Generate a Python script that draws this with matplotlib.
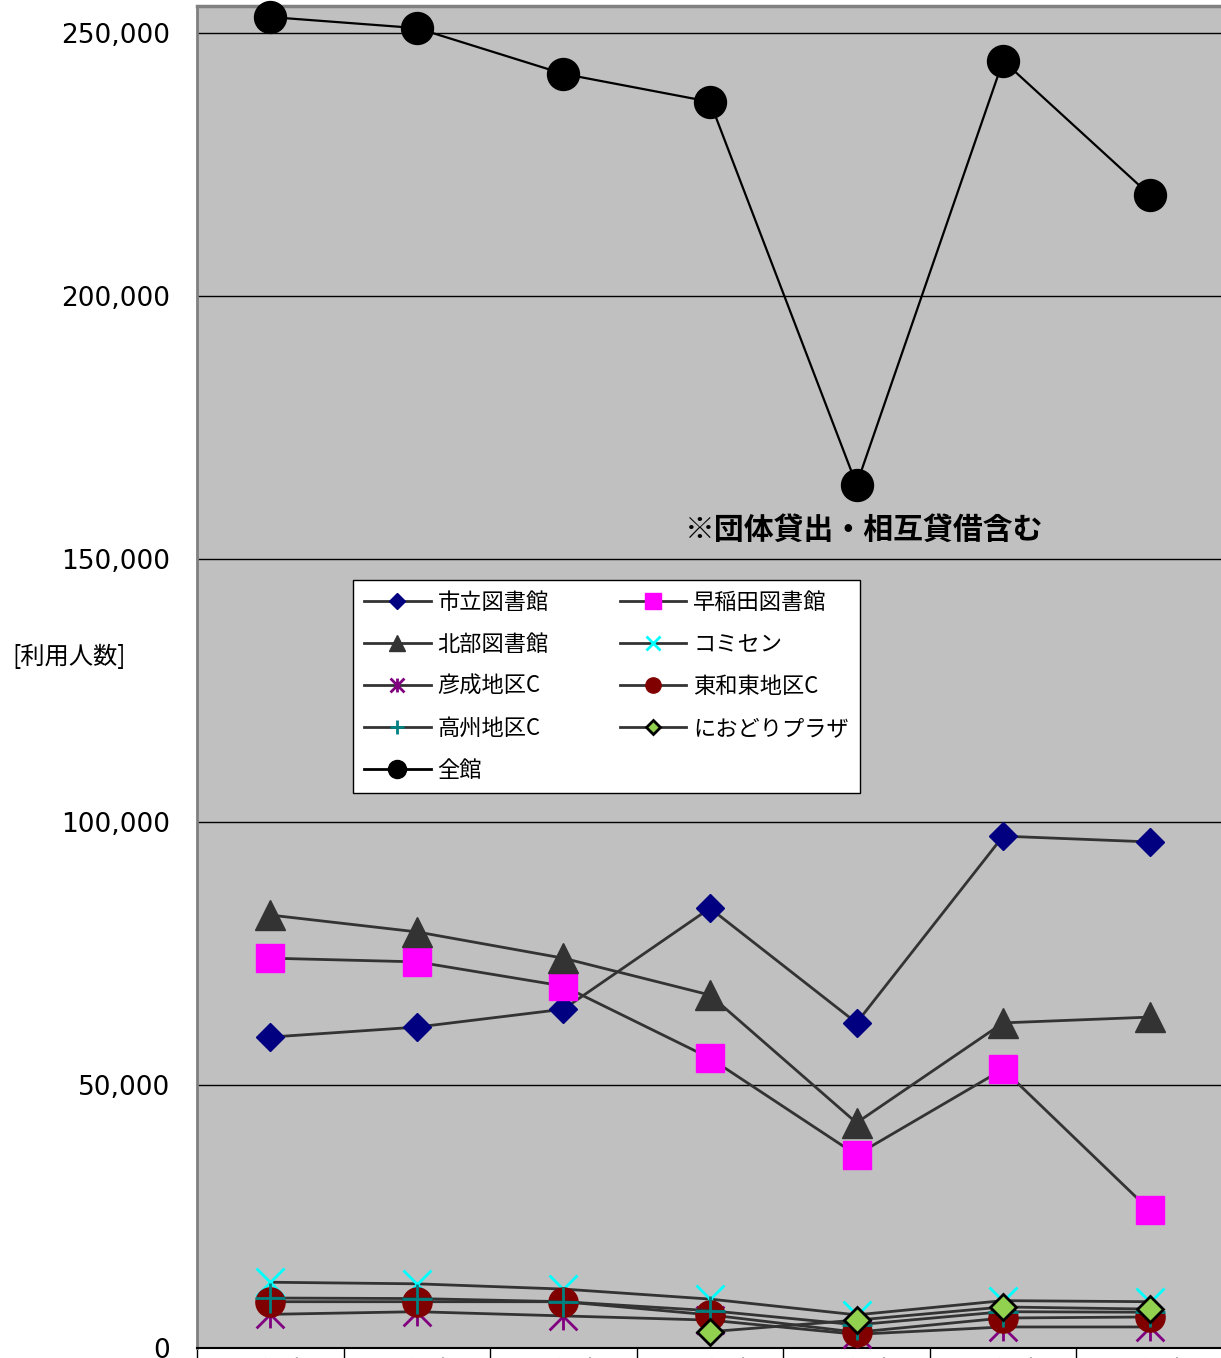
import matplotlib
matplotlib.use("Agg")
import matplotlib.pyplot as plt
from matplotlib.path import Path
from matplotlib.lines import Line2D
from matplotlib.ticker import FuncFormatter, MultipleLocator, FixedLocator

plt.rcParams['font.family'] = ['Noto Sans CJK JP', 'DejaVu Sans']

years = ["28年度", "29年度", "30年度", "R元年度", "R2年度", "R3年度", "R4年度"]

shiritsu = [59100, 61000, 64400, 83600, 61800, 97300, 96200]
waseda = [74100, 73400, 68800, 55100, 36700, 53000, 26200]
hokubu = [82300, 79100, 74100, 67100, 42800, 61800, 62900]
komisen = [12500, 12200, 11200, 9300, 6300, 9000, 8800]
hikonari = [6400, 6900, 6100, 5300, 2600, 4000, 4000]
towahigashi = [8800, 8800, 8800, 6300, 3000, 5700, 5900]
takasu = [9500, 9400, 8800, 7100, 4400, 6900, 6800]
niodori = [None, None, None, 3100, 5300, 7800, 7400]
zenkan = [253000, 250900, 242200, 236900, 164100, 244700, 219200]

names = ["市立図書館", "早稲田図書館", "北部図書館", "コミセン", "彦成地区C",
         "東和東地区C", "高州地区C", "におどりプラザ", "全館"]

star = Path([(-0.5, -0.5), (0.5, 0.5), (-0.5, 0.5), (0.5, -0.5), (0, -0.5), (0, 0.5)],
            [Path.MOVETO, Path.LINETO, Path.MOVETO, Path.LINETO, Path.MOVETO, Path.LINETO])

line_c = "#333333"
styles = [
    dict(marker='D', ms=14.5, mfc='#000080', mec='#000080', mew=1),
    dict(marker='s', ms=20, mfc='#FF00FF', mec='#FF00FF', mew=1),
    dict(marker='^', ms=21, mfc='#333333', mec='#333333', mew=1),
    dict(marker='x', ms=20, mfc='#00FFFF', mec='#00FFFF', mew=2),
    dict(marker=star, ms=20, mfc='#800080', mec='#800080', mew=2),
    dict(marker='o', ms=21, mfc='#800000', mec='#800000', mew=1),
    dict(marker='+', ms=21, mfc='#008080', mec='#008080', mew=2),
    dict(marker='D', ms=13.5, mfc='#92D050', mec='#000000', mew=2),
    dict(marker='o', ms=23, mfc='#000000', mec='#000000', mew=1),
]
leg_ms = [8, 11, 11, 10, 10, 11, 10, 7, 13]

series = [shiritsu, waseda, hokubu, komisen, hikonari, towahigashi, takasu, niodori, zenkan]

fig = plt.figure(figsize=(12.21, 13.58), dpi=100)
ax = fig.add_axes([197/1221, 1 - 1348/1358, 1 - 197/1221 + 0.01, (1348 - 6)/1358])
ax.set_facecolor('#C0C0C0')

x = list(range(len(years)))
for i, (vals, st) in enumerate(zip(series, styles)):
    xs = [xi for xi, v in zip(x, vals) if v is not None]
    vs = [v for v in vals if v is not None]
    lc = '#000000' if i == 8 else line_c
    lw = 1.6 if i == 8 else 2.0
    ax.plot(xs, vs, color=lc, lw=lw, zorder=3 + i, clip_on=False, **st)

ax.set_xlim(-0.5, 6.5 + 0.07)
ax.set_ylim(0, 255100)
ax.yaxis.set_major_locator(MultipleLocator(50000))
ax.yaxis.set_major_formatter(FuncFormatter(lambda v, p: f"{int(v):,}"))
ax.grid(axis='y', color='black', lw=1, zorder=1)
ax.set_axisbelow(True)
ax.tick_params(axis='y', length=0, pad=19.5, labelsize=19)
for lab in ax.get_yticklabels():
    lab.set_fontfamily(['DejaVu Sans'])

ax.set_xticks(x)
ax.set_xticklabels(years)
ax.xaxis.set_minor_locator(FixedLocator([i - 0.5 for i in range(8)]))
ax.tick_params(axis='x', which='major', length=0, pad=7.5, labelsize=18)
ax.tick_params(axis='x', which='minor', length=8, width=1, color='black')

ax.spines['left'].set_color('#808080')
ax.spines['left'].set_linewidth(2)
ax.spines['top'].set_color('#808080')
ax.spines['top'].set_linewidth(2.5)
ax.spines['bottom'].set_color('#000000')
ax.spines['bottom'].set_linewidth(1.5)
ax.spines['right'].set_visible(False)

ax.text(4.05, 155600, "※団体貸出・相互貸借含む", ha='center', va='center',
        fontsize=21.5, fontweight='bold', zorder=20)

fig.text(12/1221, 1 - 657/1358, "[利用人数]", ha='left', va='center', fontsize=17.5)

handles = []
for i, st in enumerate(styles):
    d = dict(st)
    d['ms'] = leg_ms[i]
    lc = '#000000' if i == 8 else line_c
    handles.append(Line2D([0], [0], color=lc, lw=2, **d))
order = [0, 2, 4, 6, 8, 1, 3, 5, 7]
leg = ax.legend([handles[j] for j in order], [names[j] for j in order],
                ncol=2, loc='upper left',
                bbox_to_anchor=(353/1221, 1 - 580/1358), bbox_transform=fig.transFigure,
                fontsize=16, frameon=True, fancybox=False, framealpha=1,
                edgecolor='black', handlelength=3.0, labelspacing=0.85,
                columnspacing=3.2, borderpad=0.5, handletextpad=0.3,
                borderaxespad=0)
leg.get_frame().set_linewidth(1)
leg.set_zorder(30)

fig.savefig("out.png", dpi=100)
